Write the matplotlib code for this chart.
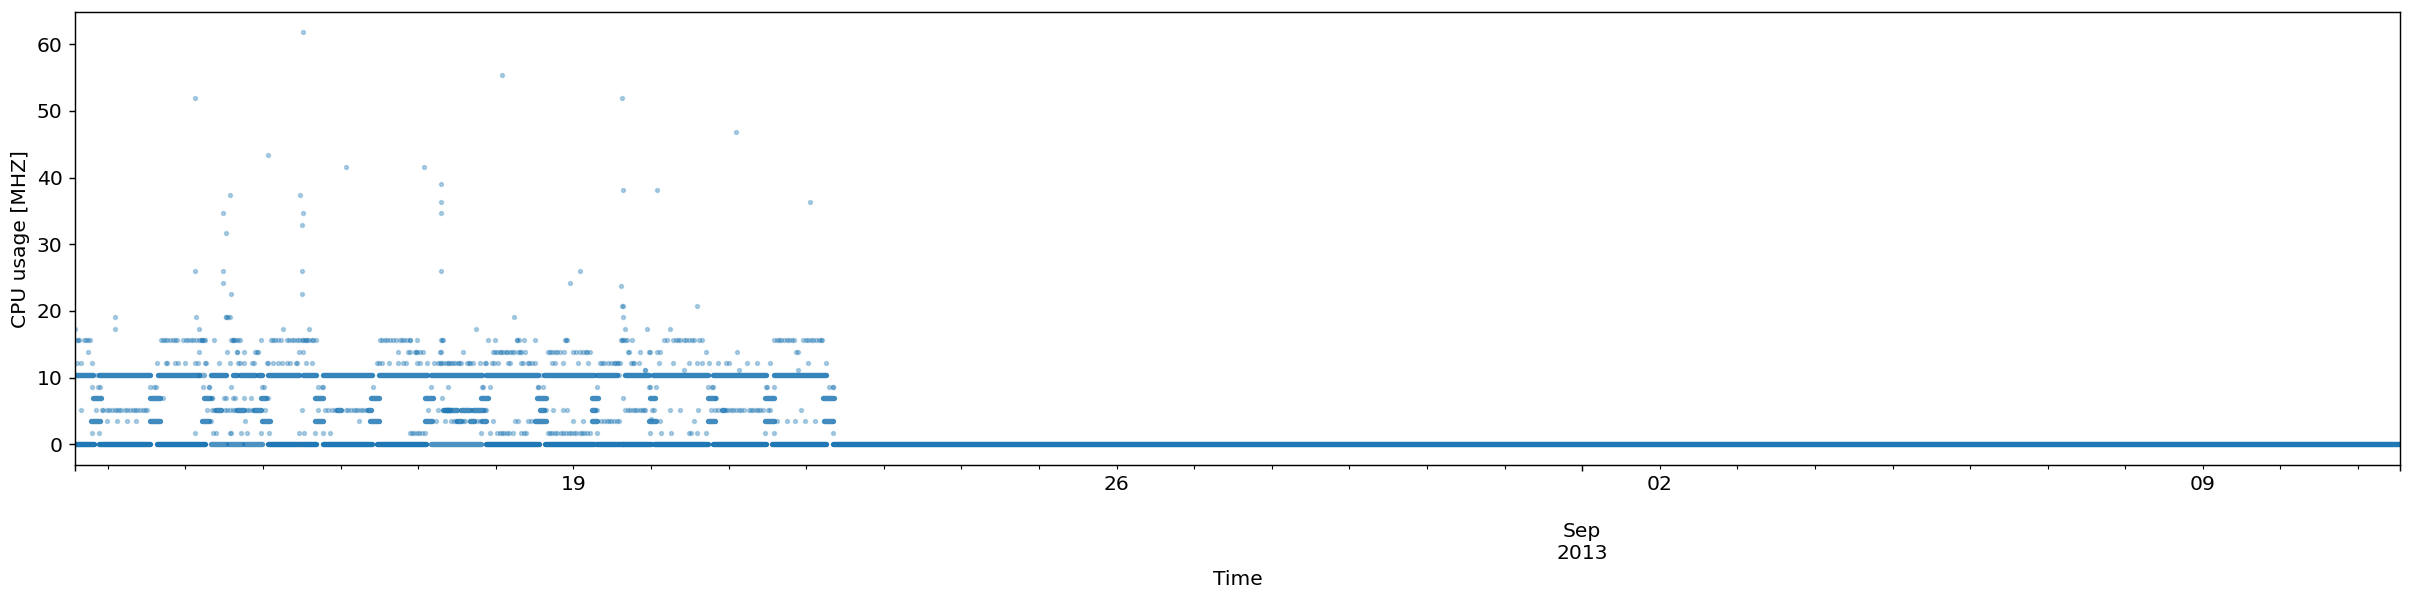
import numpy as np
import matplotlib
matplotlib.use("Agg")
import matplotlib.pyplot as plt
import matplotlib.dates as mdates
from matplotlib.ticker import FixedLocator, FixedFormatter

plt.rcParams["font.size"] = 11.2

# time values are day-of-August 2013 (32 = Sep 1)
outlier_days = [14.13, 15.51, 15.07, 16.07, 17.08, 14.58, 15.48, 14.48, 15.52, 14.53, 15.50, 14.12, 14.48, 15.50,
                14.48, 14.59, 15.50, 17.29, 17.30, 17.29, 17.30, 18.08, 19.63, 21.10, 19.64, 20.08, 22.05, 19.08,
                18.96, 19.62, 20.00, 19.92, 19.92, 20.43, 21.13, 21.90]
outlier_cpu = [52.0, 61.8, 43.33, 41.6, 41.6, 37.44, 37.44, 34.67, 34.67, 31.77, 32.93, 26.0, 26.0, 26.0,
               24.27, 22.53, 22.53, 39.0, 36.4, 34.67, 26.0, 55.46, 52.0, 46.8, 38.13, 38.13, 36.4, 26.0,
               24.27, 23.7, 3.75, 11.1, 11.1, 11.1, 11.1, 11.1]

days_208 = [19.63, 19.64, 20.59]
days_191 = [13.10, 14.14, 14.52, 14.53, 14.55, 14.58, 18.24, 19.64]
days_173 = [12.58, 13.09, 14.18, 15.26, 15.60, 17.75, 19.66, 19.95, 20.25]
days_156 = [12.60, 12.62, 12.63, 12.69, 12.72, 12.74, 12.77, 13.68, 13.71, 13.74, 13.77, 13.80, 13.84, 13.87, 13.89,
            13.97, 14.01, 14.04, 14.07, 14.10, 14.14, 14.17, 14.20, 14.21, 14.22, 14.24, 14.25, 14.37, 14.59, 14.61,
            14.62, 14.63, 14.65, 14.68, 14.71, 14.97, 15.10, 15.13, 15.16, 15.19, 15.23, 15.31, 15.34, 15.37, 15.40,
            15.44, 15.47, 15.50, 15.52, 15.54, 15.56, 15.57, 15.60, 15.63, 15.65, 15.68, 16.51, 16.54, 16.57, 16.60,
            16.64, 16.68, 16.72, 16.76, 16.79, 16.82, 16.86, 16.89, 16.90, 16.99, 17.29, 17.31, 17.32, 17.90, 17.99,
            18.27, 18.28, 18.30, 18.37, 18.50, 18.89, 18.91, 18.92, 19.61, 19.63, 19.64, 19.67, 19.69, 19.75, 20.17,
            20.21, 20.29, 20.32, 20.35, 20.38, 20.42, 20.45, 20.49, 20.53, 20.55, 20.62, 20.66, 21.58, 21.63, 21.65,
            21.68, 21.71, 21.75, 21.78, 21.82, 21.84, 21.96, 22.00, 22.03, 22.06, 22.09, 22.13, 22.16, 22.19, 22.21]
days_139 = [12.75, 14.17, 14.54, 14.66, 14.67, 14.75, 14.90, 14.92, 14.93, 15.46, 15.52, 16.74, 16.87, 16.89, 16.96,
            16.97, 16.99, 17.02, 17.06, 17.28, 17.29, 17.58, 17.97, 17.99, 18.02, 18.05, 18.07, 18.10, 18.13, 18.14,
            18.19, 18.21, 18.23, 18.29, 18.31, 18.33, 18.38, 18.67, 18.70, 18.73, 18.76, 18.79, 18.83, 18.88, 19.00,
            19.03, 19.09, 19.12, 19.16, 19.18, 19.21, 19.70, 19.72, 19.86, 19.97, 19.99, 20.08, 20.12, 20.71, 21.11,
            21.87, 21.90]
days_121 = [12.60, 12.65, 12.80, 13.64, 13.75, 13.76, 13.87, 13.90, 14.00, 14.12, 14.16, 14.25, 14.27, 14.44, 14.57,
            14.68, 14.70, 14.76, 14.86, 14.89, 15.05, 15.06, 15.13, 15.20, 15.25, 15.31, 15.35, 15.43, 15.44, 15.55,
            15.63, 16.47, 16.50, 16.53, 16.62, 16.74, 16.81, 16.84, 16.98, 17.02, 17.12, 17.21, 17.25, 17.28, 17.29,
            17.32, 17.36, 17.39, 17.40, 17.43, 17.45, 17.48, 17.51, 17.53, 17.55, 17.63, 17.65, 17.67, 17.71, 17.80,
            17.86, 17.88, 17.95, 17.98, 18.03, 18.16, 18.18, 18.33, 18.35, 18.41, 18.43, 18.47, 18.50, 18.73, 18.77,
            18.87, 19.06, 19.19, 19.34, 19.37, 19.40, 19.45, 19.48, 19.52, 19.54, 19.56, 19.58, 19.60, 19.74, 19.77,
            19.78, 19.84, 20.10, 20.28, 20.49, 20.60, 20.66, 20.75, 20.87, 20.97, 21.01, 21.24, 21.37, 21.54, 22.03,
            22.25]
days_104 = [12.86, 18.58, 19.59]
days_87 = [12.80, 12.88, 12.90, 13.55, 13.60, 13.62, 14.23, 14.30, 14.31, 14.59, 14.99, 15.01, 15.71, 15.76, 15.78,
           16.42, 17.17, 17.39, 17.82, 17.84, 17.93, 18.54, 18.55, 18.61, 19.31, 19.97, 19.99, 20.06, 20.74, 20.79,
           20.80, 21.48, 21.50, 21.58, 22.29, 22.34, 22.35]
days_69 = [13.71, 14.34, 14.35, 14.50, 14.53, 14.61, 14.64, 14.75, 14.85, 15.07, 17.31, 19.64, 20.84]
days_52 = [12.65, 12.85, 12.92, 12.94, 12.99, 13.02, 13.06, 13.09, 13.12, 13.15, 13.17, 13.22, 13.25, 13.29, 13.32,
           13.35, 13.38, 13.42, 13.45, 13.48, 13.51, 14.28, 14.35, 14.37, 14.51, 14.54, 14.58, 14.61, 14.64, 14.79,
           14.82, 14.86, 15.03, 15.50, 15.71, 15.80, 15.84, 15.89, 15.93, 16.07, 16.10, 16.13, 16.17, 16.20, 16.23,
           16.26, 16.29, 16.33, 17.13, 17.25, 17.86, 17.88, 18.65, 18.74, 18.87, 18.92, 19.30, 19.67, 19.70, 19.73,
           19.77, 19.80, 19.82, 19.86, 19.89, 19.91, 19.93, 20.01, 20.04, 20.24, 20.37, 20.61, 20.78, 20.83, 20.87,
           20.97, 20.99, 21.03, 21.06, 21.10, 21.13, 21.16, 21.20, 21.26, 21.29, 21.32, 21.35, 21.38, 21.41, 21.45,
           21.51, 21.53, 21.93]
days_35 = [12.99, 13.12, 13.25, 13.37, 14.33, 14.77, 16.24, 17.23, 17.34, 17.43, 17.46, 17.49, 17.58, 17.61, 17.76,
           17.80, 17.97, 18.25, 18.29, 18.42, 18.45, 18.99, 19.12, 19.36, 19.39, 19.43, 19.46, 19.49, 19.52, 19.56,
           19.59, 20.12, 20.56, 21.62, 21.75, 21.86, 21.99, 22.12]
days_17 = [12.80, 12.89, 14.13, 14.36, 14.40, 14.57, 14.59, 14.72, 14.79, 14.98, 15.08, 15.47, 15.53, 15.67, 15.78,
           15.87, 16.89, 16.92, 16.95, 16.98, 17.01, 17.05, 17.09, 17.81, 17.92, 18.01, 18.05, 18.08, 18.11, 18.14,
           18.17, 18.22, 18.33, 18.36, 18.39, 18.67, 18.70, 18.73, 18.76, 18.79, 18.84, 18.87, 18.91, 18.94, 18.97,
           19.01, 19.04, 19.08, 19.11, 19.14, 19.17, 19.22, 19.31, 19.99, 20.13, 20.26, 20.49, 20.52, 20.60, 20.71,
           21.47, 21.58, 22.35]

# stretches where samples overlap into a solid band (start, end)
runs_00 = [(12.58, 12.82), (12.89, 13.55), (13.64, 14.25), (15.07, 15.50), (15.52, 15.69), (15.77, 16.41),
           (16.47, 17.10), (17.87, 18.56), (18.63, 19.26), (19.29, 19.64), (19.64, 20.00), (20.04, 20.74),
           (20.80, 21.48), (21.56, 22.25), (22.34, 42.54)]
runs_00_thin = [(14.33, 14.53), (14.55, 14.73), (14.75, 14.99), (17.17, 17.81)]
runs_104 = [(12.58, 12.81), (12.89, 13.55), (13.65, 14.17), (14.33, 14.53), (14.61, 14.67), (14.70, 14.90),
            (14.93, 14.99), (15.07, 15.46), (15.52, 15.69), (15.77, 16.40), (16.49, 17.11), (17.17, 17.82),
            (17.87, 18.55), (18.62, 19.27), (19.30, 19.56), (19.66, 19.98), (20.03, 20.74), (20.80, 21.48),
            (21.58, 22.25)]
runs_104_thin = [(14.17, 14.24)]
runs_69 = [(12.81, 12.91), (13.54, 13.67), (14.24, 14.32), (14.98, 15.04), (15.67, 15.78), (16.39, 16.50),
           (17.09, 17.19), (17.81, 17.90), (18.53, 18.65), (19.24, 19.32), (19.99, 20.05), (20.73, 20.83),
           (21.47, 21.58), (22.22, 22.36)]
runs_52 = [(14.40, 14.46), (14.66, 14.76), (14.89, 14.98), (15.96, 16.01), (16.36, 16.39), (17.32, 17.41),
           (17.35, 17.50), (17.55, 17.67), (17.71, 17.84), (18.57, 18.62), (19.24, 19.28), (20.91, 20.94)]
runs_35 = [(12.79, 12.90), (13.54, 13.67), (14.22, 14.31), (14.99, 15.09), (15.67, 15.77), (16.38, 16.49),
           (17.09, 17.18), (17.50, 17.55), (17.67, 17.72), (17.82, 17.88), (18.50, 18.65),
           (19.24, 19.31), (19.97, 20.07), (20.73, 20.83), (21.47, 21.58), (22.23, 22.35)]

xlim_days = [12.582, 42.54]
ylim_cpu = [-3.1, 64.8]
yticks = [0, 10, 20, 30, 40, 50, 60]
major_days = [12.582, 32, 42.54]
major_labels = ["", "\n\nSep\n2013", ""]
# every day but the Sep 1 major tick
minor_days = [d for d in range(13, 43) if d != 32]
labelled_days = {19: "19", 26: "26", 33: "02", 40: "09"}

aug0 = mdates.date2num(np.datetime64("2013-08-01")) - 1


def to_x(days):
    return aug0 + np.asarray(days, dtype=float)


fig = plt.figure(figsize=(2411 / 130, 599 / 130), dpi=130)
ax = fig.add_axes([75.3 / 2411, 1 - 465 / 599, (2400 - 75.3) / 2411, (465 - 12.3) / 599])

blue = "#1f77b4"
point_sets = [(days_208, 20.8), (days_191, 19.07), (days_173, 17.33), (days_156, 15.6), (days_139, 13.87),
              (days_121, 12.13), (days_104, 10.4), (days_87, 8.67), (days_69, 6.93), (days_52, 5.2),
              (days_35, 3.47), (days_17, 1.73)]
for days, level in point_sets:
    ax.scatter(to_x(days), np.full(len(days), level), s=4.5, linewidths=0.9, color=blue, alpha=0.32)
ax.scatter(to_x(outlier_days), outlier_cpu, s=4.5, linewidths=0.9, color=blue, alpha=0.32)

run_sets = [(runs_00, 0, 1.0), (runs_00_thin, 0, 0.8), (runs_104, 10.4, 0.9), (runs_104_thin, 10.4, 0.6),
            (runs_69, 6.93, 0.85), (runs_52, 5.2, 0.85), (runs_35, 3.47, 0.85)]
for runs, level, a in run_sets:
    starts = to_x([r[0] for r in runs])
    ends = to_x([r[1] for r in runs])
    ax.hlines(np.full(len(runs), level), starts, ends, color=blue, linewidth=3.0, alpha=a, capstyle="round")

ax.set_xlim(to_x(xlim_days))
ax.set_ylim(ylim_cpu)
ax.set_yticks(yticks)

ax.xaxis.set_major_locator(FixedLocator(to_x(major_days)))
ax.xaxis.set_major_formatter(FixedFormatter(major_labels))
ax.xaxis.set_minor_locator(FixedLocator(to_x(minor_days)))
ax.xaxis.set_minor_formatter(FixedFormatter([labelled_days.get(d, "") for d in minor_days]))

ax.set_ylabel("CPU usage [MHZ]")
ax.set_xlabel("Time")
ax.yaxis.set_label_coords(-0.0195, 0.5)
ax.xaxis.set_label_coords(0.5, -0.232)

fig.savefig("out.png", dpi=130)
